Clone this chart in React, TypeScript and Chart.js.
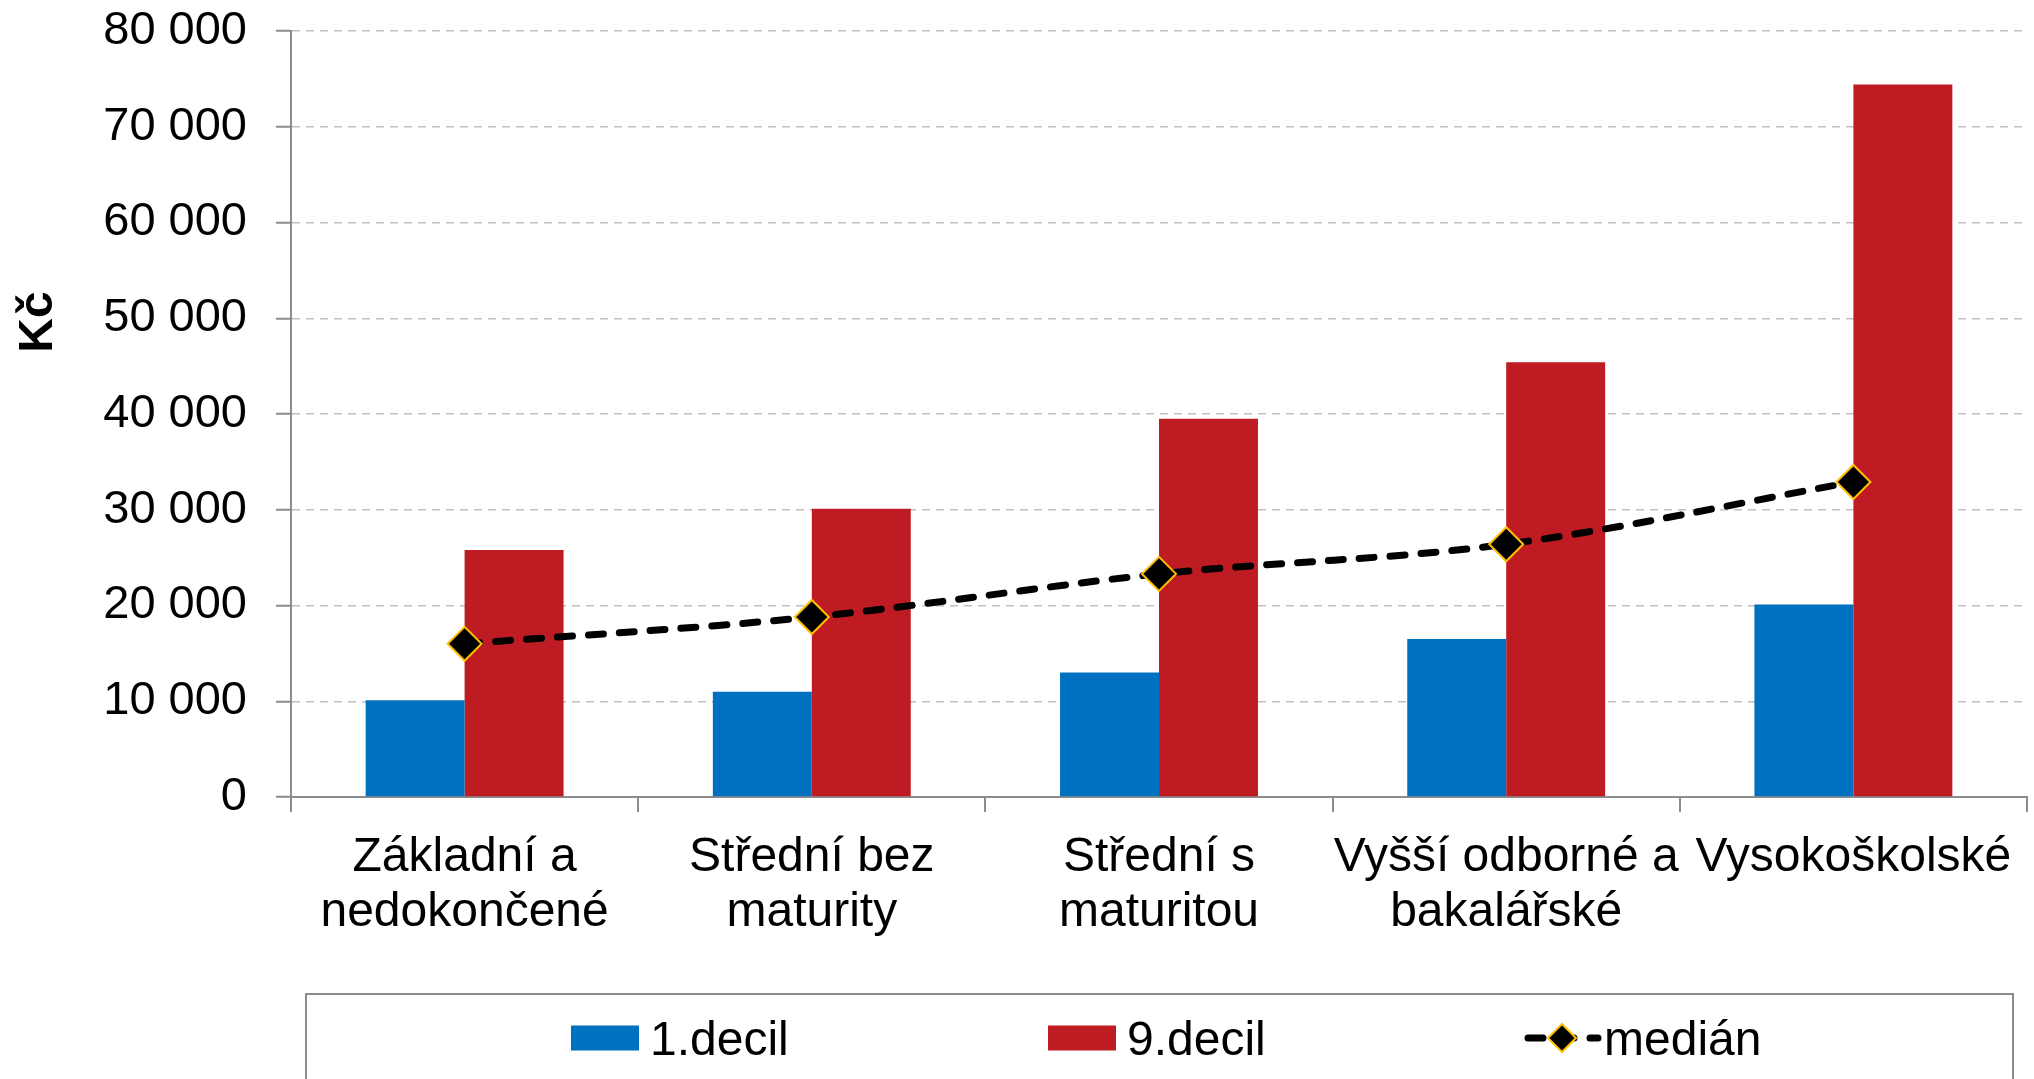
import React, { useEffect, useRef } from 'react';
import { Chart, registerables } from 'chart.js';

Chart.register(...registerables);

// ---- data ----
const categories: (string | string[])[] = [
  ['Základní a', 'nedokončené'],
  ['Střední bez', 'maturity'],
  ['Střední s', 'maturitou'],
  ['Vyšší odborné a', 'bakalářské'],
  ['Vysokoškolské'],
];
const decil1 = [10100, 11000, 13000, 16500, 20100];
const decil9 = [25800, 30100, 39500, 45400, 74400];
const median = [16000, 18800, 23300, 26400, 32900];
const yTicks = [0, 10000, 20000, 30000, 40000, 50000, 60000, 70000, 80000];
const seriesNames = ['1.decil', '9.decil', 'medián'];
const yTitle = 'Kč';

// ---- style ----
const FONT = '"Liberation Sans", Arial, sans-serif';
const BLUE = '#0070C0';
const RED = '#BE1B22';
const GOLD = '#FFC000';
const AXIS = '#8c8c8c';
const GRID = '#c0c0c0';
const LINE_DASH = [15, 16];
const LINE_W = 7;

function fmt(v: number): string {
  return String(v).replace(/\B(?=(\d{3})+(?!\d))/g, ' ');
}

function diamond(ctx: CanvasRenderingContext2D, x: number, y: number, r: number) {
  ctx.beginPath();
  ctx.moveTo(x - r, y);
  ctx.lineTo(x, y - r);
  ctx.lineTo(x + r, y);
  ctx.lineTo(x, y + r);
  ctx.closePath();
  ctx.fillStyle = '#000';
  ctx.fill();
  ctx.lineWidth = 2;
  ctx.strokeStyle = GOLD;
  ctx.stroke();
}

const customPlugin = {
  id: 'customDecor',
  afterDraw(chart: any) {
    const ctx: CanvasRenderingContext2D = chart.ctx;
    const ca = chart.chartArea;

    // y axis title
    ctx.save();
    ctx.font = `bold 48px ${FONT}`;
    ctx.fillStyle = '#000';
    ctx.translate(52, ca.top + 291);
    ctx.rotate(-Math.PI / 2);
    ctx.textAlign = 'center';
    ctx.textBaseline = 'alphabetic';
    ctx.fillText(yTitle, 0, 0);
    ctx.restore();

    // legend box
    ctx.save();
    const lx = ca.left + 15;
    const rx = chart.width - 21;
    const ly = ca.bottom + 197;
    ctx.strokeStyle = AXIS;
    ctx.lineWidth = 2;
    ctx.beginPath();
    ctx.moveTo(lx, chart.height + 10);
    ctx.lineTo(lx, ly);
    ctx.lineTo(rx, ly);
    ctx.lineTo(rx, chart.height + 10);
    ctx.stroke();

    const cy = ly + 44;
    const baseline = ly + 61;
    const pitch = 477;
    const x0 = ca.left + 280;
    const ds = chart.data.datasets;
    ctx.font = `48px ${FONT}`;
    ctx.textBaseline = 'alphabetic';
    ctx.textAlign = 'left';
    for (let i = 0; i < 3; i++) {
      const x = x0 + i * pitch;
      if (i < 2) {
        ctx.fillStyle = ds[i].backgroundColor;
        ctx.fillRect(x, cy - 12.5, 68, 25);
      } else {
        ctx.save();
        ctx.strokeStyle = '#000';
        ctx.lineWidth = LINE_W;
        ctx.lineCap = 'round';
        ctx.setLineDash(LINE_DASH);
        ctx.beginPath();
        ctx.moveTo(x + 3, cy);
        ctx.lineTo(x + 73, cy);
        ctx.stroke();
        ctx.restore();
        diamond(ctx, x + 37, cy, 14);
      }
      ctx.fillStyle = '#000';
      ctx.fillText(ds[i].label, x + 79, baseline);
    }
    ctx.restore();
  },
};

export default function App() {
  const ref = useRef<HTMLCanvasElement | null>(null);

  useEffect(() => {
    if (!ref.current) return;
    const chart = new Chart(ref.current, {
      type: 'bar',
      data: {
        labels: categories as any,
        datasets: [
          {
            type: 'bar',
            label: seriesNames[0],
            data: decil1,
            backgroundColor: BLUE,
            order: 1,
            categoryPercentage: 0.57,
            barPercentage: 1.0,
          } as any,
          {
            type: 'bar',
            label: seriesNames[1],
            data: decil9,
            backgroundColor: RED,
            order: 1,
            categoryPercentage: 0.57,
            barPercentage: 1.0,
          } as any,
          {
            type: 'line',
            label: seriesNames[2],
            data: median,
            borderColor: '#000',
            borderWidth: LINE_W,
            borderDash: LINE_DASH,
            borderCapStyle: 'round',
            tension: 0.35,
            fill: false,
            pointStyle: 'rectRot',
            pointRadius: 17,
            pointHoverRadius: 17,
            pointBorderWidth: 2,
            pointBorderColor: GOLD,
            pointBackgroundColor: '#000',
            order: 0,
          } as any,
        ],
      },
      options: {
        responsive: false,
        animation: false,
        events: [],
        layout: { autoPadding: false, padding: { left: 0, top: 31, right: 7, bottom: 0 } },
        plugins: {
          legend: { display: false },
          tooltip: { enabled: false },
          title: { display: false },
        },
        scales: {
          x: {
            grid: {
              display: true,
              drawOnChartArea: false,
              drawTicks: true,
              tickLength: 15,
              color: AXIS,
              lineWidth: 2,
              offset: true,
            },
            border: { display: true, color: AXIS, width: 2 },
            ticks: {
              font: { family: FONT, size: 48, lineHeight: 1.15 },
              color: '#000',
              padding: 18,
              autoSkip: false,
              maxRotation: 0,
              minRotation: 0,
            },
            afterFit: (s: any) => {
              s.height = 282;
              s.paddingLeft = 0;
              s.paddingRight = 0;
            },
          },
          y: {
            min: 0,
            max: 80000,
            afterBuildTicks: (s: any) => {
              s.ticks = yTicks.map((v) => ({ value: v }));
            },
            grid: {
              color: (c: any) => (c.tick && c.tick.value === 0 ? 'rgba(0,0,0,0)' : GRID),
              lineWidth: 1.5,
              tickColor: AXIS,
              tickWidth: 2,
              tickLength: 15,
              tickBorderDash: [],
            } as any,
            border: { display: true, color: AXIS, width: 2, dash: [8, 6] },
            ticks: {
              font: { family: FONT, size: 47 },
              color: '#000',
              padding: 29,
              callback: (v: any) => fmt(Number(v)),
            },
            afterFit: (s: any) => {
              s.width = 291;
              s.paddingTop = 0;
              s.paddingBottom = 0;
            },
          },
        },
      } as any,
      plugins: [customPlugin as any],
    });
    return () => chart.destroy();
  }, []);

  return (
    <div
      style={{
        position: 'fixed',
        left: 0,
        top: 0,
        width: 2034,
        height: 1079,
        background: '#fff',
        overflow: 'hidden',
      }}
    >
      <canvas ref={ref} width={2034} height={1079} style={{ display: 'block' }} />
    </div>
  );
}
